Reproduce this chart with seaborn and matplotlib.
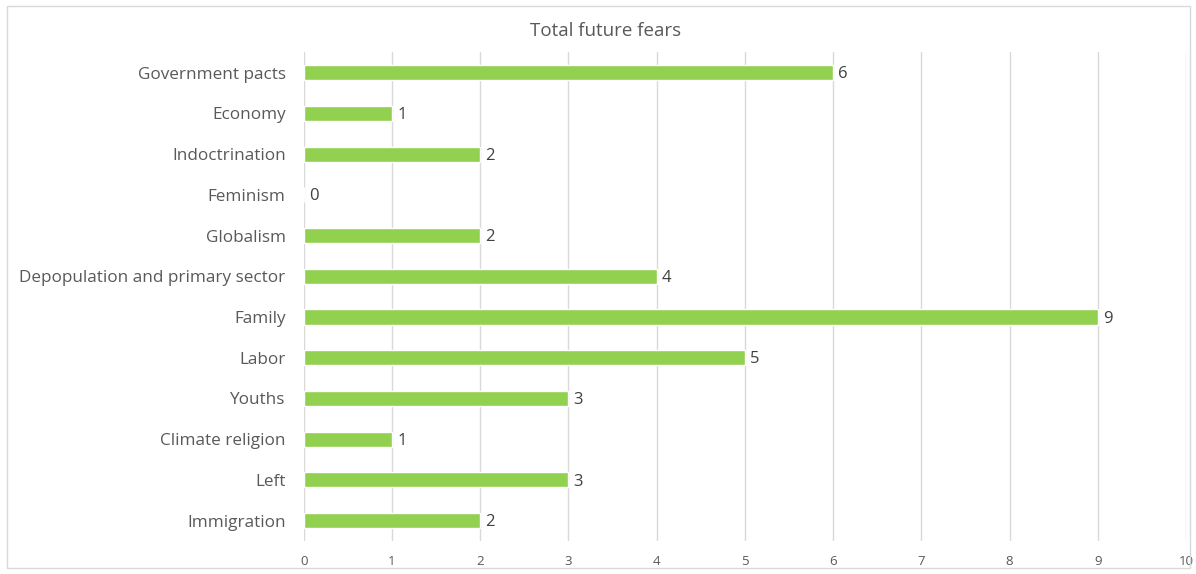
import matplotlib
matplotlib.use("Agg")
import matplotlib.pyplot as plt
import seaborn as sns
import pandas as pd
from matplotlib.patches import Rectangle

categories = [
    "Government pacts", "Economy", "Indoctrination", "Feminism", "Globalism",
    "Depopulation and primary sector", "Family", "Labor", "Youths",
    "Climate religion", "Left", "Immigration",
]
counts = [6, 1, 2, 0, 2, 4, 9, 5, 3, 1, 3, 2]
x_ticks = list(range(0, 11))

sns.set_theme(style="white")
plt.rcParams["font.family"] = ["Open Sans", "DejaVu Sans"]

text_color = "#595959"
bar_color = "#92D050"
grid_color = "#D9D9D9"

df = pd.DataFrame({"category": categories, "count": counts})

fig = plt.figure(figsize=(11.96, 5.74), dpi=100)
ax = fig.add_axes([0.254, 0.0575, 0.9916 - 0.254, 0.909 - 0.0575])

sns.barplot(data=df, y="category", x="count", color=bar_color,
            width=0.37, saturation=1, ax=ax, orient="h")

ax.set_xlim(0, 10)
ax.set_ylim(len(categories) - 0.5, -0.5)
ax.set_xticks(x_ticks)
ax.set_xticklabels([str(t) for t in x_ticks])
ax.xaxis.grid(True, color=grid_color, linewidth=1)
ax.set_axisbelow(True)
for s in ax.spines.values():
    s.set_visible(False)
ax.set_xlabel("")
ax.set_ylabel("")
ax.tick_params(axis="x", colors=text_color, labelsize=9.5, length=0, pad=10)
ax.tick_params(axis="y", colors=text_color, labelsize=12.3, length=0, pad=13)
for lbl in ax.get_yticklabels():
    lbl.set_color(text_color)

for i, v in enumerate(counts):
    ax.text(v + 0.06, i + 0.04, str(v), va="center", ha="left",
            fontsize=12, color="#404040")

fig.text(0.5066, 0.946, "Total future fears", ha="center", va="center",
         fontsize=13.5, color=text_color)

fig.patches.append(Rectangle((0.006, 0.01), 0.989, 0.98, transform=fig.transFigure,
                             fill=False, edgecolor="#D9D9D9", linewidth=1))

fig.savefig("out.png", dpi=100, facecolor="white")
